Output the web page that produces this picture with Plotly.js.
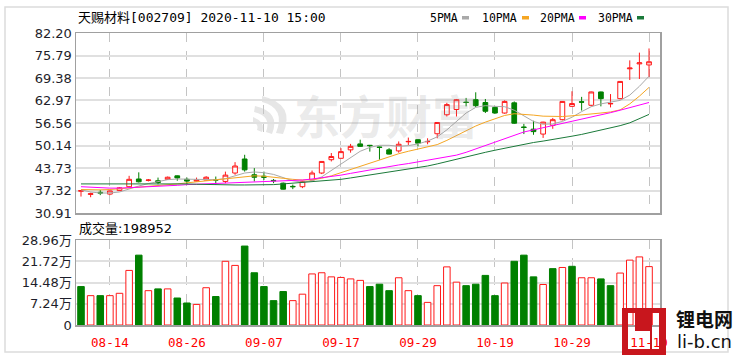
<!DOCTYPE html>
<html><head><meta charset="utf-8">
<script src="https://cdn.plot.ly/plotly-3.0.1.min.js"></script>
<style>html,body{margin:0;padding:0;background:#fff;}#chart{width:738px;height:356px;}</style>
</head><body><div id="chart"></div>
<script>
// ---- data ----
const dates = ["08-11","08-12","08-13","08-14","08-17","08-18","08-19","08-20","08-21","08-24","08-25","08-26","08-27","08-28","08-31",
"09-01","09-02","09-03","09-04","09-07","09-08","09-09","09-10","09-11","09-14","09-15","09-16","09-17","09-18","09-21","09-22","09-23","09-24","09-25","09-28","09-29","09-30",
"10-09","10-12","10-13","10-14","10-15","10-16","10-19","10-20","10-21","10-22","10-23","10-26","10-27","10-28","10-29","10-30",
"11-02","11-03","11-04","11-05","11-06","11-09","11-10"];
const open  = [37.1,36.2,36.8,36.3,37.3,38.4,40.6,40.2,40.1,40.5,41.5,40.5,40.0,40.3,40.4,39.9,42.3,46.3,41.8,41.4,40.2,39.4,38.5,38.4,40.3,42.3,46.1,46.5,48.9,50.6,50.2,49.7,48.9,48.6,51.2,51.8,51.2,53.5,58.9,60.4,62.5,63.2,62.4,61.0,59.4,62.3,55.4,54.8,53.4,55.9,57.5,61.3,62.6,61.6,65.4,62.0,63.5,72.0,73.4,73.1];
const high  = [37.4,36.7,37.5,37.3,38.3,41.5,42.5,40.6,41.0,41.3,41.6,41.0,41.0,41.4,41.3,42.7,45.4,47.5,43.7,42.7,40.6,39.6,39.0,40.1,43.0,45.7,48.0,49.4,50.6,51.8,50.3,49.8,49.4,51.3,52.4,51.9,52.2,56.8,62.3,63.4,63.7,65.3,63.4,61.3,63.0,62.7,56.3,57.2,56.9,58.0,62.8,65.6,64.0,65.5,65.5,64.8,68.5,74.4,76.6,77.8];
const low   = [35.6,35.4,36.0,36.0,37.2,38.2,39.6,39.9,39.1,40.4,40.1,39.1,39.9,40.2,39.0,39.4,41.8,42.7,39.9,40.3,39.4,37.6,37.7,38.0,40.2,42.0,45.6,46.4,48.1,49.8,48.4,46.1,47.6,48.1,50.3,49.9,50.5,52.2,58.4,58.4,61.3,61.1,59.4,59.2,59.2,56.3,53.4,53.2,52.3,54.9,57.3,61.2,60.1,61.3,61.3,61.0,63.3,68.8,69.1,69.6];
const close = [37.3,36.4,36.6,37.2,38.1,40.5,39.8,40.3,39.6,41.1,40.9,40.0,40.3,41.1,40.3,41.7,44.3,43.2,41.1,41.1,40.1,37.7,38.4,39.9,42.3,45.6,47.0,48.4,49.9,49.9,50.1,49.6,47.7,50.5,51.3,50.8,51.3,56.7,61.8,63.2,62.4,61.5,59.9,59.4,62.7,56.5,55.3,54.1,56.8,57.5,62.7,62.1,62.5,65.4,63.5,62.1,68.4,72.2,73.7,74.0];
const ma5  = [37.5,36.9,36.6,36.6,36.9,37.8,38.6,39.3,39.9,40.4,40.6,40.6,40.5,40.5,40.4,40.7,41.4,42.3,42.6,42.4,41.9,40.9,40.1,39.7,40.1,41.2,43.0,44.8,46.8,48.5,49.6,50.2,50.2,49.9,50.1,50.6,51.4,52.6,54.6,57.0,59.4,61.0,61.5,61.3,61.2,60.2,58.6,57.0,56.2,56.3,57.0,58.2,59.8,61.2,62.0,62.6,63.0,64.5,67.0,69.9];
const ma10 = [37.6,37.5,37.5,37.6,37.8,38.0,38.3,38.5,38.7,38.9,39.2,39.5,39.8,40.2,40.5,40.8,41.1,41.4,41.5,41.4,41.2,40.8,40.5,40.3,40.4,40.8,41.5,42.4,43.4,44.4,45.3,46.2,47.0,47.8,48.5,49.2,49.8,50.4,51.6,53.0,54.4,55.7,56.8,57.8,58.7,59.2,59.1,58.8,58.5,58.4,58.4,58.6,58.8,59.1,59.4,59.7,60.3,62.0,64.2,66.7];
const ma20 = [38.4,38.2,38.1,38.0,38.0,38.1,38.2,38.3,38.4,38.6,38.8,39.0,39.1,39.2,39.3,39.4,39.5,39.6,39.7,39.8,39.9,40.0,40.1,40.3,40.6,40.9,41.3,41.7,42.2,42.7,43.3,43.8,44.2,44.6,45.0,45.5,45.9,46.3,46.8,47.4,48.2,49.2,50.2,51.2,52.2,53.2,54.0,54.6,55.2,55.7,56.3,57.0,57.6,58.2,58.8,59.5,60.2,60.9,61.6,62.4];
const ma30 = [39.2,39.2,39.2,39.3,39.4,39.4,39.4,39.4,39.4,39.4,39.3,39.2,39.1,39.0,38.9,38.9,38.9,38.9,38.9,38.9,39.0,39.2,39.4,39.6,39.8,40.0,40.2,40.5,40.9,41.3,41.7,42.1,42.5,42.9,43.3,43.7,44.3,44.9,45.6,46.3,47.0,47.6,48.2,48.8,49.4,50.0,50.5,51.0,51.4,51.8,52.3,52.8,53.3,53.9,54.5,55.1,55.8,56.6,57.8,59.0];
const volume = [131000,100000,100000,100000,108000,186000,238000,117000,123000,123000,92000,75000,70000,127000,97000,217000,203000,269000,178000,131000,83000,114000,83000,105000,174000,178000,164000,162000,157000,152000,
131000,139000,117000,161000,117000,100000,77000,134000,198000,146000,134000,139000,169000,100000,143000,217000,238000,164000,138000,192000,196000,200000,161000,161000,157000,134000,177000,221000,232000,198952];
const volDir = ["d","u","d","u","u","u","d","u","d","u","d","d","u","u","d","u","u","d","d","d","d","d","u","u","u","u","u","u","u","u",
"d","d","d","u","u","d","u","u","u","u","d","d","d","d","u","d","d","d","u","d","u","d","u","u","d","d","u","u","u","u"];
const tickIdx = [3,11,19,27,35,43,51,59];
const priceTicks = [30.91,37.32,43.73,50.14,56.56,62.97,69.38,75.79,82.20];
const volTicks = [0,72400,144800,217200,289600];
const volTickText = ["0","7.24万","14.48万","21.72万","28.96万"];
const maNames = ["5PMA","10PMA","20PMA","30PMA"];
const maColors = ["#a9a9a9","#f5a623","#ff00ff","#1b7a3a"];
const title = "天赐材料[002709] 2020-11-10 15:00";
const volLabel = "成交量:198952";

// ---- geometry helpers (pixel -> paper) ----
const L=76,R=660,T=33,B=325;
const px = x => (x-L)/(R-L);
const py = y => (B-y)/(B-T);

const idx = dates.map((d,i)=>i);
const RED="#ff1a1a", GREEN="#008000";

const traces = [];
traces.push({type:"bar", x:idx, y:volume, xaxis:"x", yaxis:"y2", width:0.68,
  marker:{color:volDir.map(d=>d==="u"?"#ffffff":GREEN), line:{color:volDir.map(d=>d==="u"?RED:GREEN), width:1}},
  hoverinfo:"skip", showlegend:false});
traces.push({type:"candlestick", x:idx, open:open, high:high, low:low, close:close, xaxis:"x", yaxis:"y",
  increasing:{line:{color:RED,width:1}, fillcolor:"#ffffff"},
  decreasing:{line:{color:GREEN,width:1}, fillcolor:GREEN},
  whiskerwidth:0, showlegend:false, hoverinfo:"skip"});
[ma5,ma10,ma20,ma30].forEach((m,k)=>{
  traces.push({type:"scatter", mode:"lines", x:idx, y:m, xaxis:"x", yaxis:"y",
    line:{color:maColors[k], width:1}, showlegend:false, hoverinfo:"skip"});
});

const annotations = [];
annotations.push({xref:"paper",yref:"paper",x:px(76),y:py(18),xanchor:"left",yanchor:"middle",showarrow:false,
  text:title, font:{family:"DejaVu Sans Mono, Noto Sans CJK SC",size:13,color:"#000"}});
annotations.push({xref:"paper",yref:"paper",x:px(77),y:py(228),xanchor:"left",yanchor:"middle",showarrow:false,
  text:volLabel, font:{family:"DejaVu Sans, Noto Sans CJK SC",size:13,color:"#000"}});
const legX=[428,480,538,596], swX=[462,522,579,637];
const shapes = [];
maNames.forEach((n,k)=>{
  annotations.push({xref:"paper",yref:"paper",x:px(legX[k]),y:py(18),xanchor:"left",yanchor:"middle",showarrow:false,
    text:n, font:{family:"DejaVu Sans Mono",size:11.5,color:"#000"}});
  shapes.push({type:"rect",xref:"paper",yref:"paper",x0:px(swX[k]),x1:px(swX[k]+7),y0:py(19.5),y1:py(16),
    fillcolor:maColors[k],line:{width:0}});
});
// watermark
annotations.push({xref:"paper",yref:"paper",x:px(386),y:py(114),xanchor:"center",yanchor:"middle",showarrow:false,
  text:"东方财富", font:{family:"Noto Sans CJK SC",size:46,weight:700,color:"rgba(150,150,150,0.2)"}});
shapes.push({type:"path",xref:"paper",yref:"paper",layer:"below",
  path:`M ${px(262)} ${py(96)} Q ${px(296)} ${py(104)} ${px(283)} ${py(134)} L ${px(276)} ${py(133)} Q ${px(286)} ${py(108)} ${px(262)} ${py(102)} Z`,
  fillcolor:"#e6e6e6",line:{width:0}});
shapes.push({type:"path",xref:"paper",yref:"paper",layer:"below",
  path:`M ${px(255)} ${py(106)} Q ${px(281)} ${py(112)} ${px(272)} ${py(134)} L ${px(266)} ${py(132)} Q ${px(272)} ${py(116)} ${px(254)} ${py(112)} Z`,
  fillcolor:"#e6e6e6",line:{width:0}});
shapes.push({type:"path",xref:"paper",yref:"paper",layer:"below",
  path:`M ${px(253)} ${py(117)} Q ${px(266)} ${py(122)} ${px(262)} ${py(132)} L ${px(257)} ${py(130)} Q ${px(259)} ${py(124)} ${px(253)} ${py(122)} Z`,
  fillcolor:"#e6e6e6",line:{width:0}});
// outer frame
shapes.push({type:"rect",xref:"paper",yref:"paper",x0:px(5),x1:px(728),y0:py(352),y1:py(7),line:{color:"#dcdcdc",width:1.5},layer:"below"});
// li-b logo: red square with transparent "L I" cut-outs
const logoRed = [[622,666,308,313],[622,666,349,355],[622,628,313,349],[635,652,313,331],[650,652,331,349],[659,666,313,349]];
logoRed.forEach(r=>shapes.push({type:"rect",xref:"paper",yref:"paper",x0:px(r[0]),x1:px(r[1]),y0:py(r[3]),y1:py(r[2]),
  fillcolor:"#c8161d",line:{width:0}}));
annotations.push({xref:"paper",yref:"paper",x:px(704),y:py(318),xanchor:"center",yanchor:"middle",showarrow:false,
  text:"锂电网", font:{family:"Noto Sans CJK SC",size:19,weight:700,color:"#111"}});
annotations.push({xref:"paper",yref:"paper",x:px(704),y:py(342),xanchor:"center",yanchor:"middle",showarrow:false,
  text:"li-b.cn", font:{family:"DejaVu Sans",size:18,color:"#111"}});

const layout = {
  width:738, height:356, margin:{l:L,r:738-R,t:T,b:356-B}, paper_bgcolor:"#ffffff", plot_bgcolor:"rgba(0,0,0,0)",
  showlegend:false, bargap:0.3, dragmode:false,
  xaxis:{range:[-0.52,60.14], anchor:"y2", tickvals:tickIdx, ticktext:tickIdx.map(i=>dates[i]),
    tickfont:{family:"DejaVu Sans Mono",size:12.5,color:"#ff0000"}, ticks:"", ticklabelstandoff:5,
    showgrid:true, gridcolor:"#c4c4c4", griddash:"dash", gridwidth:1, zeroline:false,
    showline:true, linecolor:"#a0a0a0", linewidth:1.5, mirror:"all", rangeslider:{visible:false}, fixedrange:true},
  yaxis:{domain:[py(213),1], range:[30.91,82.20], tickvals:priceTicks, ticktext:priceTicks.map(v=>v.toFixed(2)),
    tickfont:{family:"DejaVu Sans",size:13,color:"#1e1e2a"}, ticks:"", showgrid:true, gridcolor:"#e0e0e0", gridwidth:2,
    zeroline:false, showline:true, linecolor:"#a0a0a0", linewidth:1.5, mirror:true, fixedrange:true},
  yaxis2:{domain:[0,py(240)], range:[0,289600], tickvals:volTicks, ticktext:volTickText,
    tickfont:{family:"DejaVu Sans, Noto Sans CJK SC",size:13,color:"#1e1e2a"}, ticks:"", showgrid:true, gridcolor:"#e0e0e0", gridwidth:2,
    zeroline:false, showline:true, linecolor:"#a0a0a0", linewidth:1.5, mirror:true, fixedrange:true},
  annotations:annotations, shapes:shapes
};
Plotly.newPlot("chart", traces, layout, {staticPlot:true, displayModeBar:false});
</script></body></html>
